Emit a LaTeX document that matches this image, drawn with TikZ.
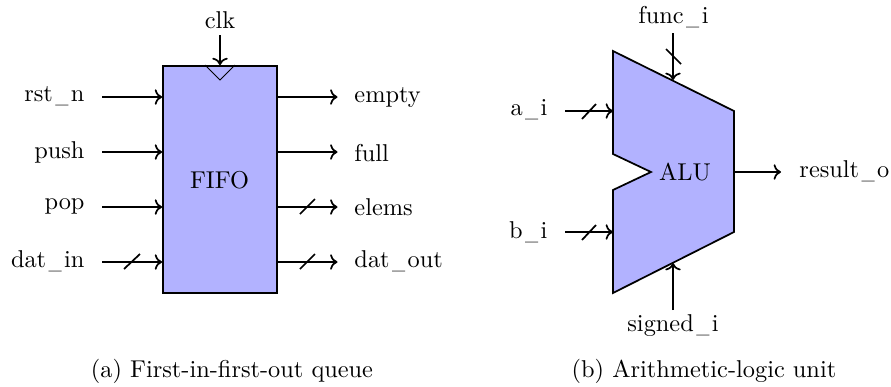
\documentclass[tikz,border=0pt]{standalone}
\usetikzlibrary{arrows.meta}
\newcommand{\wideusc}{\kern.1em\raisebox{-.05em}{\scalebox{.72}[1]{\_}}\kern.1em}
\begin{document}
\begin{tikzpicture}[x=0.69pt,y=-0.69pt,
  >={Computer Modern Rightarrow[scale=1.2]},
  conn/.style={->,line width=1.2pt},
  blockshape/.style={draw,line width=1.2pt,fill=blue!30,line join=miter},
  bigtext/.style={scale=1.68,transform shape,inner sep=0pt},
  lblr/.style={bigtext,anchor=base east},
  lbll/.style={bigtext,anchor=base west},
  lblc/.style={bigtext,anchor=base},
  slash/.style={line width=1.2pt}]
\useasboundingbox (0,0) rectangle (891,386);
% FIFO
\node[blockshape,inner sep=0pt,minimum width=114*0.69pt,minimum height=227*0.69pt] (fifo) at (220,179.5) {};
\node[lblc] (fifotext) at (219.5,188) {FIFO};
\draw[line width=0.5pt] (205,65) -- (220,80) -- (235,65);
\node[lblc] (clk) at (220,28) {clk};
\coordinate (clks) at (220,35);
\draw[conn] (clks) -- (clks |- fifo.north);
\node[lblr] (rst) at (85,101) {rst\wideusc n};
\node[lblr] (push) at (85,158) {push};
\node[lblr] (pop) at (85,209) {pop};
\node[lblr] (datin) at (85,267) {dat\wideusc in};
\foreach \n/\y in {rst/97,push/152,pop/207,datin/262}{
  \coordinate (\n s) at (102,\y);
  \draw[conn] (\n s) -- (\n s -| fifo.west);
}
\node[lbll] (empty) at (354,102) {empty};
\node[lbll] (full) at (354,161) {full};
\node[lbll] (elems) at (354,215) {elems};
\node[lbll] (datout) at (354,267) {dat\wideusc out};
\foreach \n/\y in {empty/97,full/152,elems/207,datout/262}{
  \coordinate (\n s) at (337.5,\y);
  \draw[conn] (\n s -| fifo.east) -- (\n s);
}
\draw[slash] (124,269) -- (140,254);
\draw[slash] (300,214) -- (315,199);
\draw[slash] (300,269) -- (315,254);
% ALU
\coordinate (p1) at (613,51);
\coordinate (p2) at (734,111);
\coordinate (p3) at (734,232);
\coordinate (p4) at (613,293);
\coordinate (p5) at (613,190);
\coordinate (p6) at (651,172);
\coordinate (p7) at (613,154);
\draw[blockshape] (p1) -- (p2) -- (p3) -- (p4) -- (p5) -- (p6) -- (p7) -- cycle;
\node[lblc] (alutext) at (685,180) {ALU};
\node[lblc] (func) at (673.5,23) {func\wideusc i};
\coordinate (funcs) at (673,33);
\coordinate (funce) at (673,80);
\draw[conn] (funcs) -- (funce);
\draw[slash] (666,49) -- (681,64);
\node[lblr] (a) at (548,115) {a\wideusc i};
\coordinate (as) at (565,111);
\coordinate (ae) at (613,111);
\draw[conn] (as) -- (ae);
\draw[slash] (582,119) -- (596,104);
\node[lblr] (b) at (548,238) {b\wideusc i};
\coordinate (bs) at (565,232);
\coordinate (be) at (613,232);
\draw[conn] (bs) -- (be);
\draw[slash] (582,240) -- (596,225);
\node[lbll] (res) at (799,177) {result\wideusc o};
\coordinate (rs) at (781,172);
\draw[conn] (p3 |- rs) -- (rs);
\node[lblc] (signed) at (673,331) {signed\wideusc i};
\coordinate (ss) at (673,310);
\coordinate (se) at (673,263);
\draw[conn] (ss) -- (se);
\node[lblc,scale=1.0] (capa) at (232,377) {(a) First-in-first-out queue};
\node[lblc,scale=1.0] (capb) at (704,377) {(b) Arithmetic-logic unit};
\end{tikzpicture}
\end{document}
